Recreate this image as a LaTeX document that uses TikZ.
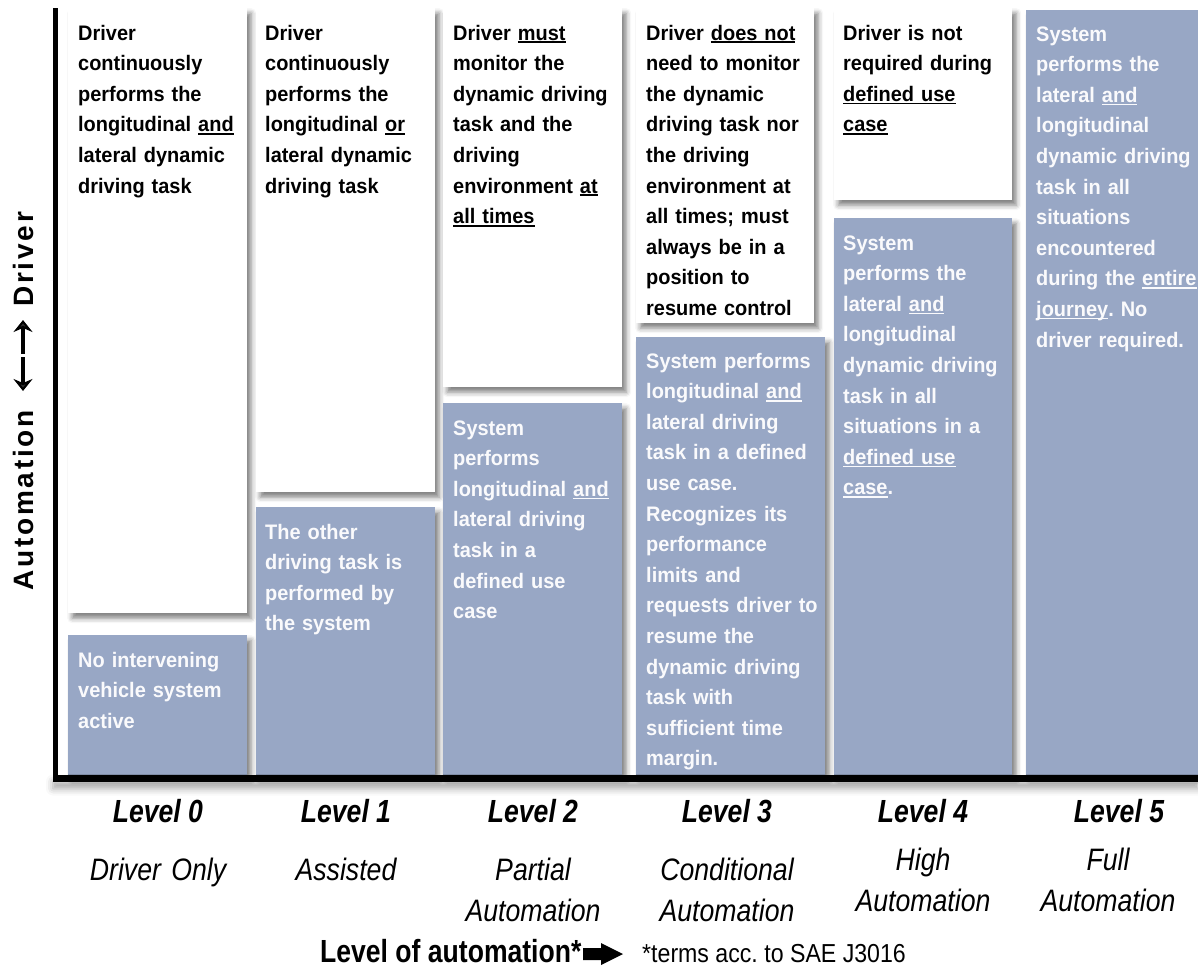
\documentclass[tikz,border=0pt]{standalone}
\usepackage{fontspec}
\setmainfont{Liberation Sans}
\newfontfamily\boxfont[FakeStretch=0.95]{Liberation Sans}
\newfontfamily\lvlfont[FakeStretch=0.83]{Liberation Sans}
\newfontfamily\subfont[FakeStretch=0.86]{Liberation Sans}
\newfontfamily\notefont[FakeStretch=0.89]{Liberation Sans}
\usetikzlibrary{shadows.blur,arrows.meta}
\frenchspacing
\definecolor{sysblue}{RGB}{152,167,197}
\definecolor{txtwhite}{RGB}{250,250,252}
\newcommand\ulx[1]{\leavevmode\setbox0\hbox{#1}\rlap{\rule[-3pt]{\wd0}{1.6pt}}\box0}
\tikzset{
  softshadow/.style={blur shadow={shadow xshift=4pt, shadow yshift=-5pt, shadow blur radius=5pt, shadow opacity=50}},
  wbox/.style={fill=white, inner sep=0pt, anchor=north west, softshadow},
  bbox/.style={fill=sysblue, inner sep=0pt, anchor=north west, softshadow},
  wtext/.style={anchor=base west, inner sep=0pt, text width=190pt, align=left,
    font=\boxfont\bfseries\fontsize{21}{30.6}\selectfont, text=black},
  btext/.style={wtext, text=txtwhite},
  lvl/.style={anchor=base, inner sep=0pt, font=\lvlfont\bfseries\itshape\fontsize{32}{36}\selectfont},
  sub/.style={anchor=base, inner sep=0pt, text width=220pt, align=center,
    font=\subfont\itshape\fontsize{31}{41}\selectfont},
  ytext/.style={rotate=90, anchor=base west, inner sep=0pt, font=\bfseries\fontsize{28}{30}\selectfont\addfontfeature{LetterSpace=10}},
  yarrow/.style={line width=4.5pt, -{Stealth[width=19pt,length=12pt,inset=4pt]}},
}
\begin{document}
\begin{tikzpicture}[x=1pt,y=-1pt]
\useasboundingbox (0,0) rectangle (1198,969);

% boxes
\node[wbox, minimum width=179pt, minimum height=605pt] (w0) at (68,8) {};
\node[bbox, minimum width=179pt, minimum height=140pt] (b0) at (68,635) {};
\node[wbox, minimum width=179pt, minimum height=484pt] (w1) at (256,8) {};
\node[bbox, minimum width=179pt, minimum height=268pt] (b1) at (256,507) {};
\node[wbox, minimum width=179pt, minimum height=379pt] (w2) at (443,8) {};
\node[bbox, minimum width=179pt, minimum height=372pt] (b2) at (443,403) {};
\node[wbox, minimum width=178pt, minimum height=315pt] (w3) at (636,8) {};
\node[bbox, minimum width=189pt, minimum height=438pt] (b3) at (636,337) {};
\node[wbox, minimum width=178pt, minimum height=192pt] (w4) at (834,8) {};
\node[bbox, minimum width=178pt, minimum height=557pt] (b4) at (834,218) {};
\node[bbox, minimum width=172pt, minimum height=765pt] (b5) at (1026,10) {};

% axes
\coordinate (ytop) at (53,8);
\coordinate (orig) at (58,781.5);
\coordinate (xl) at (53,774.5);
\coordinate (xr) at (1198,781.5);
\fill[black] (ytop) rectangle (orig);
\fill[black, blur shadow={shadow xshift=0pt, shadow yshift=-7pt, shadow blur radius=7pt, shadow opacity=35}] (xl) rectangle (xr);

% texts in white boxes
\node[wtext] (t0) at (78,40) {Driver\\continuously\\performs the\\longitudinal \ulx{and}\\lateral dynamic\\driving task};
\node[wtext] (t1) at (265,40) {Driver\\continuously\\performs the\\longitudinal \ulx{or}\\lateral dynamic\\driving task};
\node[wtext] (t2) at (453,40) {Driver \ulx{must}\\monitor the\\dynamic driving\\task and the\\driving\\environment \ulx{at}\\\ulx{all times}};
\node[wtext] (t3) at (646,40) {Driver \ulx{does not}\\need to monitor\\the dynamic\\driving task nor\\the driving\\environment at\\all times; must\\always be in a\\position to\\resume control};
\node[wtext] (t4) at (843,40) {Driver is not\\required during\\\ulx{defined use}\\\ulx{case}};

% texts in blue boxes
\node[btext] (s0) at (78,667) {No intervening\\vehicle system\\active};
\node[btext] (s1) at (265,539) {The other\\driving task is\\performed by\\the system};
\node[btext] (s2) at (453,435) {System\\performs\\longitudinal \ulx{and}\\lateral driving\\task in a\\defined use\\case};
\node[btext] (s3) at (646,368) {System performs\\longitudinal \ulx{and}\\lateral driving\\task in a defined\\use case.\\Recognizes its\\performance\\limits and\\requests driver to\\resume the\\dynamic driving\\task with\\sufficient time\\margin.};
\node[btext] (s4) at (843,250) {System\\performs the\\lateral \ulx{and}\\longitudinal\\dynamic driving\\task in all\\situations in a\\\ulx{defined use}\\\ulx{case}.};
\node[btext] (s5) at (1036,41) {System\\performs the\\lateral \ulx{and}\\longitudinal\\dynamic driving\\task in all\\situations\\encountered\\during the \ulx{entire}\\\ulx{journey}. No\\driver required.};

% level labels
\node[lvl] (l0) at (158,822) {Level 0};
\node[lvl] (l1) at (346,822) {Level 1};
\node[lvl] (l2) at (533,822) {Level 2};
\node[lvl] (l3) at (727,822) {Level 3};
\node[lvl] (l4) at (923,822) {Level 4};
\node[lvl] (l5) at (1119,822) {Level 5};

\node[sub] (n0) at (158,880) {Driver Only};
\node[sub] (n1) at (346,880) {Assisted};
\node[sub] (n2) at (533,880) {Partial\\Automation};
\node[sub] (n3) at (727,880) {Conditional\\Automation};
\node[sub] (n4) at (923,870) {High\\Automation};
\node[sub] (n5) at (1108,870) {Full\\Automation};

% y axis label
\node[ytext] (yauto) at (33,591) {Automation};
\node[ytext] (ydriver) at (33,307) {Driver};
\coordinate (ad1) at (23,357);
\coordinate (ad2) at (23,391);
\coordinate (au1) at (23,354);
\coordinate (au2) at (23,320);
\draw[yarrow] (ad1) -- (ad2);
\draw[yarrow] (au1) -- (au2);

% bottom label
\node[anchor=base west, inner sep=0pt, font=\lvlfont\bfseries\fontsize{32}{36}\selectfont] (xlab) at (320,962) {Level of automation*};
\fill[black] (583,948) -- (601,948) -- (601,943) -- (623,954) -- (601,965) -- (601,960) -- (583,960) -- cycle;
\node[anchor=base west, inner sep=0pt, font=\notefont\fontsize{26}{30}\selectfont] (note) at (642,962) {*terms acc. to SAE J3016};
\end{tikzpicture}
\end{document}
